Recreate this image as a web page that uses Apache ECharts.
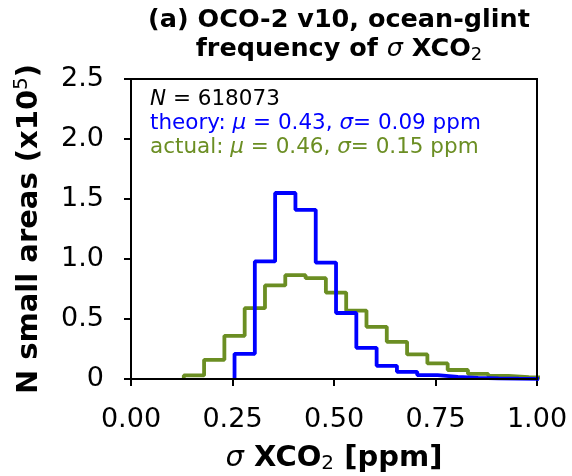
<!DOCTYPE html>
<html>
<head>
<meta charset="utf-8">
<script src="https://cdn.jsdelivr.net/npm/echarts@6/dist/echarts.min.js"></script>
<style>
  html, body { margin: 0; padding: 0; background: #fff; }
  #chart { width: 572px; height: 476px; }
</style>
</head>
<body>
<div id="chart"></div>
<script>
// histogram bin edges (ppm) and counts (x1e5)
var theoryEdges = [0.255, 0.305, 0.355, 0.405, 0.455, 0.505, 0.555, 0.605, 0.655, 0.705, 0.755, 0.805, 0.855, 0.905, 0.955, 1.005]
var theoryCounts = [0.21, 0.98, 1.55, 1.41, 0.97, 0.55, 0.26, 0.11, 0.06, 0.033, 0.018, 0.01, 0.006, 0.003, 0.001]

var actualEdges = [0.13, 0.18, 0.23, 0.28, 0.33, 0.38, 0.43, 0.48, 0.53, 0.58, 0.63, 0.68, 0.73, 0.78, 0.83, 0.88, 0.93, 0.98, 1.03]
var actualCounts = [0.03, 0.16, 0.36, 0.59, 0.78, 0.865, 0.84, 0.72, 0.57, 0.435, 0.31, 0.205, 0.13, 0.075, 0.042, 0.025, 0.016, 0.01]

var xTicks = [0, 0.25, 0.5, 0.75, 1.0]
var yTicks = [0, 0.5, 1.0, 1.5, 2.0, 2.5]

var nTotal = 618073
var theoryStats = { mu: 0.43, sigma: 0.09 }
var actualStats = { mu: 0.46, sigma: 0.15 }

// outline of a matplotlib 'step' histogram
function stepLine(edges, counts) {
  var pts = [[edges[0], 0]]
  for (var i = 0; i < counts.length; i++) {
    pts.push([edges[i], counts[i]])
    pts.push([edges[i + 1], counts[i]])
  }
  pts.push([edges[counts.length], 0])
  return pts
}

var BLUE = '#0000ff'
var GREEN = '#6b8e23'
var FONT = 'DejaVu Sans'

var chart = echarts.init(document.getElementById('chart'))

chart.setOption({
  animation: false,
  textStyle: { fontFamily: FONT },
  grid: { left: 131, right: 35, top: 79, bottom: 97, containLabel: false, outerBoundsMode: 'none' },
  title: {
    left: 334,
    textAlign: 'center',
    top: 1,
    text: '{b|(a) OCO-2 v10, ocean-glint}\n{b|frequency of }{i|σ}{b| XCO}{s|2}',
    textStyle: {
      rich: {
        b: { fontFamily: FONT, fontSize: 25.5, fontWeight: 'bold', color: '#000', lineHeight: 29 },
        i: { fontFamily: FONT, fontSize: 25.5, fontStyle: 'italic', fontWeight: 'normal', color: '#000', lineHeight: 29 },
        s: { fontFamily: FONT, fontSize: 18, fontWeight: 'normal', color: '#000', lineHeight: 29, padding: [11, 0, 0, 0] }
      }
    }
  },
  xAxis: {
    type: 'value',
    min: 0,
    max: 1,
    interval: 0.25,
    name: '{i|σ}{b| XCO}{s|2}{b| [ppm]}',
    nameLocation: 'middle',
    nameGap: 63,
    nameTextStyle: {
      rich: {
        b: { fontFamily: FONT, fontSize: 29, fontWeight: 'bold', color: '#000' },
        i: { fontFamily: FONT, fontSize: 29, fontStyle: 'italic', fontWeight: 'normal', color: '#000' },
        s: { fontFamily: FONT, fontSize: 20, fontWeight: 'normal', color: '#000', padding: [12, 0, 0, 0] }
      }
    },
    axisLine: { show: true, lineStyle: { color: '#000', width: 2 } },
    axisTick: { show: true, length: 7, lineStyle: { color: '#000', width: 2 } },
    axisLabel: {
      fontSize: 27, color: '#000', margin: 27,
      formatter: function (v) { return xTicks.indexOf(v) >= 0 ? v.toFixed(2) : '' }
    },
    splitLine: { show: false }
  },
  yAxis: {
    type: 'value',
    min: 0,
    max: 2.5,
    interval: 0.5,
    name: '{b|N small areas (x10}{s|5}{b|)}',
    nameLocation: 'middle',
    nameRotate: 90,
    nameGap: 85,
    nameTextStyle: {
      rich: {
        b: { fontFamily: FONT, fontSize: 29, fontWeight: 'bold', color: '#000' },
        s: { fontFamily: FONT, fontSize: 20, fontWeight: 'normal', color: '#000', padding: [0, 0, 14, 0] }
      }
    },
    axisLine: { show: true, lineStyle: { color: '#000', width: 2 } },
    axisTick: { show: true, length: 7, lineStyle: { color: '#000', width: 2 } },
    axisLabel: {
      fontSize: 27, color: '#000', margin: 27,
      formatter: function (v) { return v === 0 ? '0' : (yTicks.indexOf(v) >= 0 ? v.toFixed(1) : '') }
    },
    splitLine: { show: false }
  },
  graphic: [
    {
      type: 'rect',
      shape: { x: 131, y: 79, width: 406, height: 300 },
      style: { fill: null, stroke: '#000', lineWidth: 2 },
      silent: true,
      z: 10
    },
    {
      type: 'text',
      left: 150,
      top: 88,
      style: {
        text: '{ni|N}{k| = ' + nTotal + '}\n' +
          '{t|theory: }{ti|μ}{t| = ' + theoryStats.mu.toFixed(2) + ', }{ti|σ}{t|= ' + theoryStats.sigma.toFixed(2) + ' ppm}\n' +
          '{a|actual: }{ai|μ}{a| = ' + actualStats.mu.toFixed(2) + ', }{ai|σ}{a|= ' + actualStats.sigma.toFixed(2) + ' ppm}',
        rich: {
          k: { fontFamily: FONT, fontSize: 21.5, fill: '#000', lineHeight: 24 },
          ni: { fontFamily: FONT, fontSize: 21.5, fontStyle: 'italic', fill: '#000', lineHeight: 24 },
          t: { fontFamily: FONT, fontSize: 21.5, fill: BLUE, lineHeight: 24 },
          ti: { fontFamily: FONT, fontSize: 21.5, fontStyle: 'italic', fill: BLUE, lineHeight: 24 },
          a: { fontFamily: FONT, fontSize: 21.5, fill: GREEN, lineHeight: 24 },
          ai: { fontFamily: FONT, fontSize: 21.5, fontStyle: 'italic', fill: GREEN, lineHeight: 24 }
        }
      }
    }
  ],
  series: [
    {
      name: 'actual',
      type: 'line',
      data: stepLine(actualEdges, actualCounts),
      showSymbol: false,
      clip: true,
      lineStyle: { color: GREEN, width: 3.8 },
      z: 2
    },
    {
      name: 'theory',
      type: 'line',
      data: stepLine(theoryEdges, theoryCounts),
      showSymbol: false,
      clip: true,
      lineStyle: { color: BLUE, width: 3.8 },
      z: 3
    }
  ]
})
</script>
</body>
</html>
